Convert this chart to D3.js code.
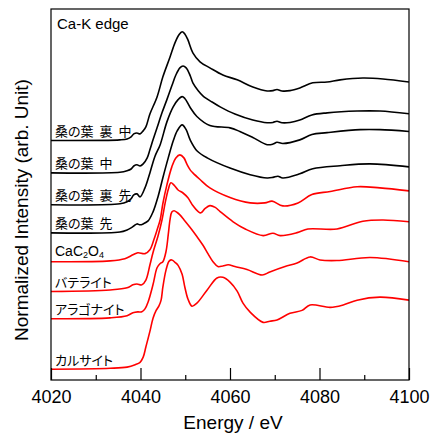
<!DOCTYPE html>
<html>
<head>
<meta charset="utf-8">
<script src="https://cdn.jsdelivr.net/npm/d3@7"></script>
<style>
  body { margin: 0; background: #fff; }
  text { font-family: "Liberation Sans", Arial, sans-serif; }
  .jp { font-family: "Noto Sans CJK JP", sans-serif; font-feature-settings: "palt"; }
</style>
</head>
<body>
<script>

// x axis
var energyRange = [4020, 4100];
var majorTicks = [4020, 4040, 4060, 4080, 4100];
var minorTicks = [4030, 4050, 4070, 4090];

// sample names, top to bottom, and whether it is a leaf or a reference compound
var sampleNames = ["桑の葉 裏 中", "桑の葉 中", "桑の葉 裏 先", "桑の葉 先", "CaC2O4", "バテライト", "アラゴナイト", "カルサイト"];
var sampleKind = ["leaf", "leaf", "leaf", "leaf", "ref", "ref", "ref", "ref"];
// vertical offset of each spectrum (arb. unit)
var offsets = [3.99, 3.45, 2.92, 2.45, 1.97, 1.475, 1.02, 0.18];

// spectra: [energy (eV), normalized intensity]
var leafBackMid = [[4020,0],[4035.4,0.01],[4037.0,0.025],[4037.9,0.06],[4038.5,0.11],[4039.2,0.125],[4039.9,0.11],[4040.6,0.16],[4041.2,0.225],[4042.1,0.44],[4043.7,0.725],[4045.0,1.06],[4046.6,1.39],[4047.7,1.625],[4048.6,1.76],[4049.3,1.81],[4049.9,1.775],[4050.6,1.675],[4051.7,1.46],[4053.3,1.31],[4055.5,1.21],[4058.4,1.09],[4061.6,1.01],[4065.1,0.89],[4068.3,0.825],[4069.6,0.83],[4070.5,0.85],[4071.6,0.825],[4073.4,0.83],[4075.6,0.875],[4078.5,0.96],[4081.7,0.975],[4084.6,1.01],[4089.7,1.04],[4094.2,1.025],[4100,0.975]];
var leafMid = [[4020,0],[4035.4,0.01],[4037.0,0.035],[4037.9,0.065],[4038.5,0.115],[4039.2,0.135],[4039.9,0.115],[4040.6,0.15],[4041.5,0.25],[4042.1,0.385],[4042.8,0.55],[4043.7,0.75],[4044.8,1.0],[4045.9,1.22],[4047.0,1.45],[4047.9,1.63],[4048.8,1.75],[4049.5,1.78],[4050.2,1.75],[4051.1,1.62],[4051.7,1.5],[4052.9,1.37],[4054.0,1.28],[4056.0,1.18],[4057.8,1.1],[4061.1,0.98],[4065.1,0.88],[4068.3,0.835],[4069.6,0.84],[4070.5,0.86],[4071.6,0.835],[4073.4,0.84],[4075.6,0.88],[4078.3,0.965],[4081.7,1.0],[4088.4,1.03],[4093.5,1.03],[4100,0.985]];
var leafBackTip = [[4020,0],[4035.4,0.015],[4037.0,0.05],[4037.9,0.1],[4038.5,0.165],[4039.2,0.18],[4039.9,0.13],[4041.0,0.28],[4042.1,0.53],[4043.2,0.8],[4044.4,1.0],[4045.9,1.38],[4047.3,1.63],[4048.4,1.75],[4049.3,1.8],[4049.9,1.77],[4051.1,1.62],[4052.6,1.47],[4055.5,1.32],[4060.0,1.28],[4062.2,1.22],[4065.1,1.12],[4068.3,1.0],[4069.6,1.01],[4070.5,1.04],[4071.8,1.02],[4075.6,1.08],[4078.3,1.17],[4081.7,1.2],[4089.1,1.25],[4093.5,1.25],[4100,1.22]];
var leafTip = [[4020,0],[4035.4,0.015],[4037.0,0.05],[4037.9,0.085],[4038.5,0.115],[4039.2,0.15],[4039.9,0.135],[4040.6,0.15],[4041.7,0.2],[4042.8,0.35],[4043.9,0.6],[4045.0,0.92],[4046.2,1.25],[4047.3,1.53],[4048.2,1.7],[4049.3,1.8],[4050.2,1.72],[4051.1,1.55],[4052.6,1.37],[4054.9,1.25],[4060.0,1.08],[4064.5,0.97],[4068.3,0.915],[4069.6,0.925],[4070.7,0.945],[4071.8,0.915],[4075.6,0.985],[4078.5,1.07],[4084.6,1.12],[4091.3,1.15],[4100,1.1]];
var caOxalate = [[4020,0],[4033.2,0.015],[4036.5,0.05],[4038.3,0.115],[4039.4,0.15],[4041.0,0.135],[4042.1,0.2],[4043.0,0.37],[4043.7,0.53],[4044.4,0.7],[4045.0,0.97],[4045.9,1.28],[4047.0,1.58],[4047.9,1.73],[4048.8,1.78],[4049.7,1.73],[4050.4,1.62],[4051.1,1.53],[4051.7,1.48],[4053.3,1.37],[4055.5,1.23],[4060.0,1.07],[4064.5,0.98],[4067.8,0.98],[4069.4,1.01],[4071.8,0.93],[4075.2,0.98],[4078.3,1.12],[4082.4,1.17],[4088.4,1.25],[4093.5,1.23],[4100,1.18]];
var vaterite = [[4020,0],[4033.2,0.025],[4037.0,0.06],[4038.3,0.11],[4039.2,0.125],[4040.3,0.11],[4041.2,0.19],[4042.1,0.44],[4042.8,0.65],[4043.9,0.92],[4044.8,1.19],[4045.5,1.47],[4046.2,1.7],[4046.8,1.81],[4047.5,1.77],[4048.4,1.69],[4049.5,1.64],[4050.6,1.56],[4051.7,1.43],[4052.9,1.33],[4053.5,1.31],[4054.4,1.38],[4055.5,1.43],[4056.7,1.4],[4057.8,1.33],[4060.7,1.16],[4063.4,1.04],[4067.4,0.93],[4069.6,0.97],[4071.2,0.93],[4075.0,0.98],[4077.4,1.04],[4083.9,1.04],[4089.7,1.17],[4094.2,1.19],[4100,1.16]];
var aragonite = [[4020,0],[4033.2,0.015],[4037.0,0.05],[4038.3,0.1],[4039.4,0.115],[4040.3,0.115],[4041.0,0.165],[4041.7,0.28],[4042.8,0.57],[4043.7,0.85],[4044.4,0.92],[4045.0,0.95],[4045.7,1.12],[4046.2,1.4],[4046.6,1.65],[4047.0,1.78],[4047.5,1.8],[4048.2,1.77],[4048.8,1.73],[4049.7,1.65],[4051.1,1.52],[4052.6,1.37],[4054.0,1.22],[4055.1,1.08],[4056.2,0.95],[4057.3,0.87],[4058.4,0.88],[4059.6,0.9],[4061.1,0.87],[4063.8,0.82],[4067.2,0.73],[4068.9,0.78],[4072.3,0.87],[4075.0,0.93],[4077.9,1.03],[4080.1,0.98],[4083.9,0.97],[4091.3,1.02],[4100,0.95]];
var calcite = [[4020,0],[4033.2,0.015],[4037.0,0.035],[4038.8,0.075],[4039.9,0.115],[4040.6,0.2],[4041.2,0.37],[4042.1,0.63],[4042.8,0.85],[4043.5,0.98],[4044.1,1.05],[4044.6,1.15],[4045.0,1.37],[4045.7,1.65],[4046.4,1.8],[4047.0,1.82],[4047.7,1.78],[4048.4,1.73],[4049.3,1.58],[4049.9,1.37],[4050.6,1.17],[4051.5,1.05],[4052.6,1.1],[4054.9,1.32],[4057.1,1.52],[4058.4,1.53],[4060.0,1.45],[4061.6,1.3],[4062.9,1.1],[4064.5,0.95],[4067.4,0.78],[4068.9,0.8],[4070.5,0.82],[4073.4,0.93],[4076.1,0.98],[4077.9,1.07],[4082.4,1.03],[4085.3,1.07],[4088.4,1.15],[4093.5,1.2],[4100,1.15]];

var spectra = [leafBackMid, leafMid, leafBackTip, leafTip, caOxalate, vaterite, aragonite, calcite];

// sizes (plotLeft etc. so they don't clash with window.top)
var width = 434;
var height = 438;
var plotLeft = 51, plotRight = 409, plotTop = 9, plotBottom = 380;

var xScale = d3.scaleLinear().domain(energyRange).range([plotLeft, plotRight]);
var yScale = d3.scaleLinear().domain([0, 6.18]).range([plotBottom, plotTop]);
var colorScale = d3.scaleOrdinal().domain(["leaf", "ref"]).range(["#000000", "#ff0000"]);

var svg = d3.select("body")
            .append("svg")
            .attr("width", width)
            .attr("height", height);

svg.append("clipPath").attr("id", "plotclip")
   .append("rect")
   .attr("x", plotLeft).attr("y", plotTop)
   .attr("width", plotRight - plotLeft).attr("height", plotBottom - plotTop);

// the spectra
var line = d3.line()
             .curve(d3.curveCatmullRom.alpha(0.5));

svg.append("g")
   .attr("clip-path", "url(#plotclip)")
   .selectAll("path")
   .data(spectra)
   .enter()
   .append("path")
   .attr("d", function(d, i) {
     return line(d.map(function(p) { return [xScale(p[0]), yScale(p[1] + offsets[i])]; }));
   })
   .attr("fill", "none")
   .attr("stroke", function(d, i) { return colorScale(sampleKind[i]); })
   .attr("stroke-width", 1.6)
   .attr("stroke-linejoin", "round");

// major ticks with labels, pointing inwards
var xAxis = d3.axisBottom(xScale)
              .tickValues(majorTicks)
              .tickSize(-12)
              .tickSizeOuter(0)
              .tickPadding(10)
              .tickFormat(d3.format("d"));

var gx = svg.append("g")
   .attr("transform", "translate(0," + plotBottom + ")")
   .call(xAxis);
gx.select(".domain").remove();
gx.selectAll("line").attr("stroke", "#000").attr("stroke-width", 1.2);
gx.selectAll("text")
  .attr("fill", "#000")
  .style("font-size", "18px")
  .style("font-family", "'Liberation Sans', Arial, sans-serif");

// minor ticks
var xMinor = d3.axisBottom(xScale)
               .tickValues(minorTicks)
               .tickSize(-5)
               .tickSizeOuter(0)
               .tickFormat("");
var gm = svg.append("g")
   .attr("transform", "translate(0," + plotBottom + ")")
   .call(xMinor);
gm.select(".domain").remove();
gm.selectAll("line").attr("stroke", "#000").attr("stroke-width", 1.2);

// frame
svg.append("rect")
   .attr("x", plotLeft).attr("y", plotTop)
   .attr("width", plotRight - plotLeft).attr("height", plotBottom - plotTop)
   .attr("fill", "none")
   .attr("stroke", "#000")
   .attr("stroke-width", 1.2);

// axis titles
svg.append("text")
   .attr("x", 233).attr("y", 429)
   .attr("text-anchor", "middle")
   .style("font-size", "19px")
   .text("Energy / eV");

svg.append("text")
   .attr("transform", "translate(28,210)rotate(-90)")
   .attr("text-anchor", "middle")
   .style("font-size", "19px")
   .text("Normalized Intensity (arb. Unit)");

svg.append("text")
   .attr("x", 57).attr("y", 29)
   .style("font-size", "15px")
   .text("Ca-K edge");

// sample labels above each baseline
sampleNames.forEach(function(name, i) {
  var ly = yScale(offsets[i]) - 10.5;
  if (name === "CaC2O4") {
    var t = svg.append("text")
               .attr("x", 55).attr("y", ly + 5)
               .style("font-size", "14px");
    t.append("tspan").text("CaC");
    t.append("tspan").attr("dy", 2).style("font-size", "9px").text("2");
    t.append("tspan").attr("dy", -2).text("O");
    t.append("tspan").attr("dy", 2).style("font-size", "9px").text("4");
  } else {
    var jt = svg.append("text")
                .attr("class", "jp")
                .attr("x", 55).attr("y", ly)
                .attr("dominant-baseline", "central")
                .style("font-size", "13px");
    // words are separated by a gap instead of a space character
    name.split(" ").forEach(function(word, k) {
      jt.append("tspan").attr("dx", k === 0 ? 0 : 6).text(word);
    });
  }
});

</script>
</body>
</html>
